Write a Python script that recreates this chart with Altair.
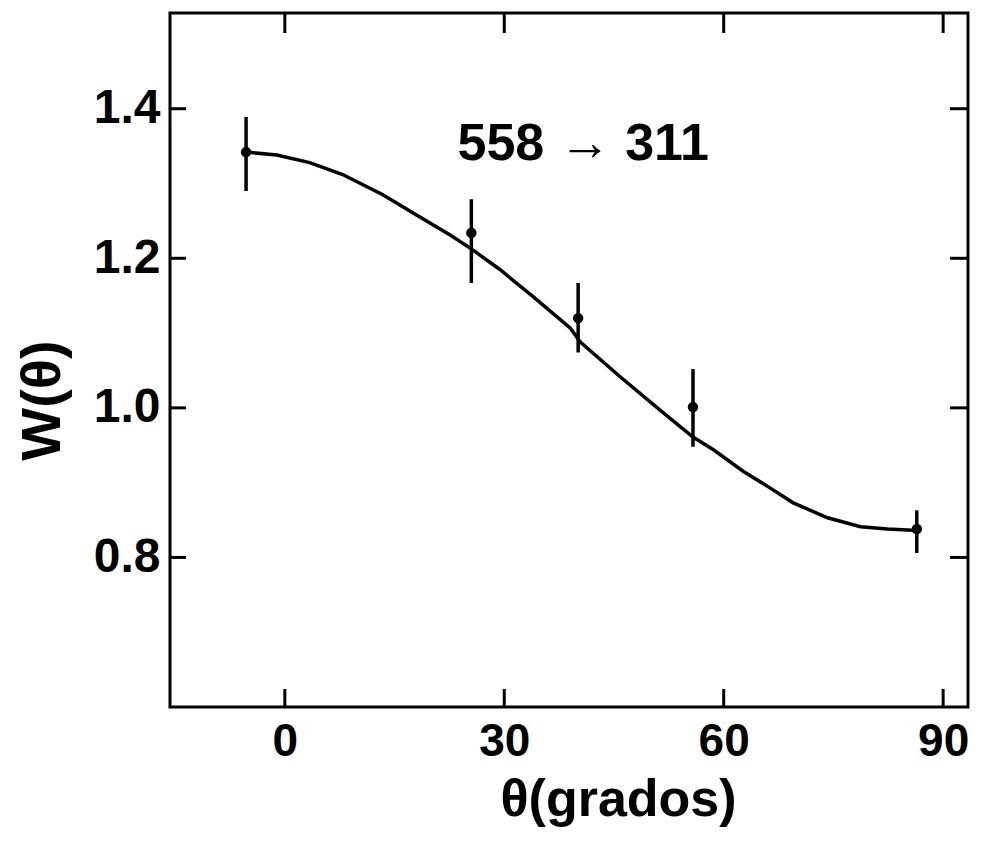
import altair as alt
import pandas as pd

# measured points (angle in degrees, W(theta), error bar low/high)
pt_theta = [-5.3, 25.5, 40.1, 55.8, 86.4]
pt_w = [1.342, 1.234, 1.120, 1.001, 0.838]
pt_lo = [1.290, 1.167, 1.074, 0.948, 0.806]
pt_hi = [1.389, 1.279, 1.167, 1.052, 0.863]

# fitted curve
cv_theta = [-5.3, -1.1, 3.4, 7.9, 13.4, 18.0, 22.6, 25.3, 29.4, 33.9, 39.0, 40.4,
            45.8, 51.3, 55.8, 58.6, 62.7, 66.0, 69.5, 74.2, 78.7, 82.4, 86.5]
cv_w = [1.342, 1.338, 1.328, 1.312, 1.285, 1.258, 1.231, 1.214, 1.185, 1.149, 1.107, 1.088,
        1.042, 0.997, 0.961, 0.944, 0.915, 0.895, 0.873, 0.853, 0.841, 0.838, 0.836]

x_ticks = [0, 30, 60, 90]
y_ticks = [0.8, 1.0, 1.2, 1.4]

label_text = ["558 \u2192 311"]
label_theta = [40.8]
label_w = [1.353]

pts = pd.DataFrame({"theta": pt_theta, "w": pt_w, "lo": pt_lo, "hi": pt_hi})
curve = pd.DataFrame({"theta": cv_theta, "w": cv_w})
xt = pd.DataFrame({"t": x_ticks})
yt = pd.DataFrame({"t": y_ticks})
lab = pd.DataFrame({"text": label_text, "theta": label_theta, "w": label_w})

FONT = "Liberation Sans"
W, H = 798, 694

xscale = alt.Scale(domain=[-15.7, 93.4], nice=False, zero=False)
yscale = alt.Scale(domain=[0.6, 1.528], nice=False, zero=False)

xaxis = alt.Axis(values=x_ticks, ticks=False, domain=False, grid=False,
                 labelFont=FONT, labelFontSize=46, labelFontWeight="bold",
                 labelColor="black", labelPadding=12,
                 title="\u03b8(grados)", titleFont=FONT, titleFontSize=52,
                 titleFontWeight="bold", titleColor="black",
                 titleX=448, titleY=92, titleBaseline="middle", titleAlign="center")
yaxis = alt.Axis(values=y_ticks, ticks=False, domain=False, grid=False, format=".1f",
                 labelFont=FONT, labelFontSize=48, labelFontWeight="bold",
                 labelColor="black", labelPadding=10,
                 title="W(\u03b8)", titleFont=FONT, titleFontSize=56,
                 titleFontWeight="bold", titleColor="black",
                 titleX=-128, titleY=387, titleAngle=270,
                 titleBaseline="middle", titleAlign="center")

line = alt.Chart(curve).mark_line(color="black", strokeWidth=3.5).encode(
    x=alt.X("theta:Q", scale=xscale, axis=xaxis),
    y=alt.Y("w:Q", scale=yscale, axis=yaxis),
)

err = alt.Chart(pts).mark_rule(color="black", strokeWidth=3.5).encode(
    x="theta:Q", y="lo:Q", y2="hi:Q"
)

dots = alt.Chart(pts).mark_circle(color="black", size=110, opacity=1).encode(
    x="theta:Q", y="w:Q"
)

tick_bottom = alt.Chart(xt).mark_rule(color="black", strokeWidth=3).encode(
    x="t:Q", y=alt.value(H), y2=alt.value(H - 18)
)
tick_top = alt.Chart(xt).mark_rule(color="black", strokeWidth=3).encode(
    x="t:Q", y=alt.value(0), y2=alt.value(20)
)
tick_left = alt.Chart(yt).mark_rule(color="black", strokeWidth=3).encode(
    y="t:Q", x=alt.value(0), x2=alt.value(16)
)
tick_right = alt.Chart(yt).mark_rule(color="black", strokeWidth=3).encode(
    y="t:Q", x=alt.value(W), x2=alt.value(W - 18)
)

text = alt.Chart(lab).mark_text(font=FONT, fontSize=52, fontWeight="bold",
                                color="black", align="center", baseline="middle").encode(
    x="theta:Q", y="w:Q", text="text:N"
)

chart = alt.layer(line, err, dots, tick_bottom, tick_top, tick_left, tick_right, text).properties(
    width=W, height=H,
    autosize=alt.AutoSizeParams(type="none"),
    padding={"left": 170, "top": 13, "right": 21, "bottom": 138},
    background="white",
).configure_view(stroke="black", strokeWidth=3)

chart.save("out.html", embed_options={"renderer": "svg", "actions": False})
